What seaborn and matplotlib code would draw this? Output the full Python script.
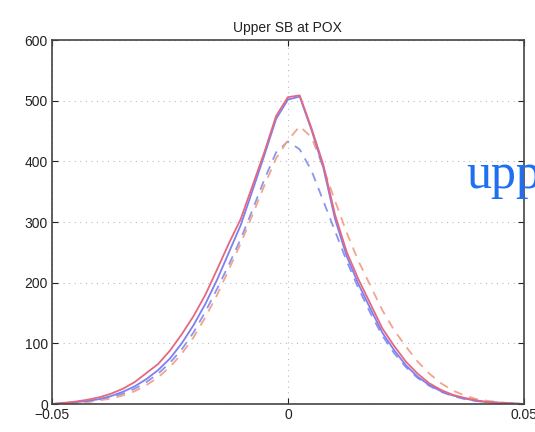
import numpy as np
import pandas as pd
import matplotlib
matplotlib.use("Agg")
import matplotlib.pyplot as plt
import seaborn as sns

# Offset grid (step 0.0025) and the four distribution curves
offset = [-0.05, -0.0475, -0.045, -0.0425, -0.04, -0.0375, -0.035, -0.0325, -0.03, -0.0275,
          -0.025, -0.0225, -0.02, -0.0175, -0.015, -0.0125, -0.01, -0.0075, -0.005, -0.0025,
          0.0, 0.0025, 0.005, 0.0075, 0.01, 0.0125, 0.015, 0.0175, 0.02, 0.0225,
          0.025, 0.0275, 0.03, 0.0325, 0.035, 0.0375, 0.04, 0.0425, 0.045, 0.0475, 0.05]

solid_red = [0, 2, 4, 7, 11, 17, 25, 36, 51, 66,
             88, 115, 145, 180, 222, 265, 305, 360, 415, 475,
             506, 509, 455, 395, 312, 250, 205, 165, 125, 96,
             70, 50, 34, 23, 15, 10, 6, 3, 2, 1, 0]

solid_blue = [0, 1, 3, 5, 8, 13, 20, 29, 41, 56,
              75, 100, 130, 165, 205, 250, 295, 352, 410, 470,
              502, 507, 452, 390, 305, 243, 197, 157, 118, 89,
              64, 45, 31, 21, 14, 9, 5, 3, 2, 1, 0]

dashed_blue = [0, 1, 2, 4, 7, 11, 17, 25, 36, 50,
               68, 90, 118, 152, 190, 230, 272, 320, 370, 415,
               433, 420, 385, 335, 285, 235, 190, 150, 113, 84,
               61, 43, 30, 20, 13, 8, 5, 3, 2, 1, 0]

dashed_red = [0, 1, 2, 3, 6, 9, 14, 21, 31, 44,
              61, 83, 110, 143, 180, 222, 265, 312, 360, 405,
              435, 458, 440, 390, 335, 282, 235, 195, 155, 122,
              95, 70, 50, 34, 22, 14, 8, 5, 3, 1, 0]

x_ticks = [-0.05, 0, 0.05]
x_tick_labels = ["\u22120.05", "0", "0.05"]
y_ticks = [0, 100, 200, 300, 400, 500, 600]

sns.set_style("white")
plt.rcParams["font.family"] = ["Liberation Sans", "DejaVu Sans"]

fig = plt.figure(figsize=(5.35, 4.32), dpi=100)
ax = fig.add_axes([0.0972, 0.0648, 0.8818, 0.8422])

series = [
    (dashed_blue, "#8a96ee", (0, (5, 4))),
    (dashed_red, "#f2a48c", (0, (5, 4))),
    (solid_blue, "#7d7ff2", "-"),
    (solid_red, "#e4687e", "-"),
]
for vals, col, ls in series:
    sns.lineplot(x=offset, y=vals, ax=ax, color=col, linewidth=1.3, linestyle=ls)

ax.set_xlim(-0.05, 0.05)
ax.set_ylim(0, 600)
ax.set_xticks(x_ticks)
ax.set_xticklabels(x_tick_labels)
ax.set_yticks(y_ticks)
ax.tick_params(direction="in", length=4, labelsize=10, colors="#222222",
               top=True, right=True, bottom=True, left=True, pad=3)
ax.grid(True, linestyle=(0, (1, 4)), color="#bbbbbb", linewidth=0.8)
for sp in ax.spines.values():
    sp.set_color("#444444")
    sp.set_linewidth(1.2)

ax.set_title("Upper SB at POX", fontsize=10, color="#222222", pad=6)

fig.text(0.871, 0.565, "upp", fontsize=36, color="#1f6ff2",
         family=["Liberation Serif", "DejaVu Serif"], ha="left", va="baseline")

fig.savefig("out.png", dpi=100)
